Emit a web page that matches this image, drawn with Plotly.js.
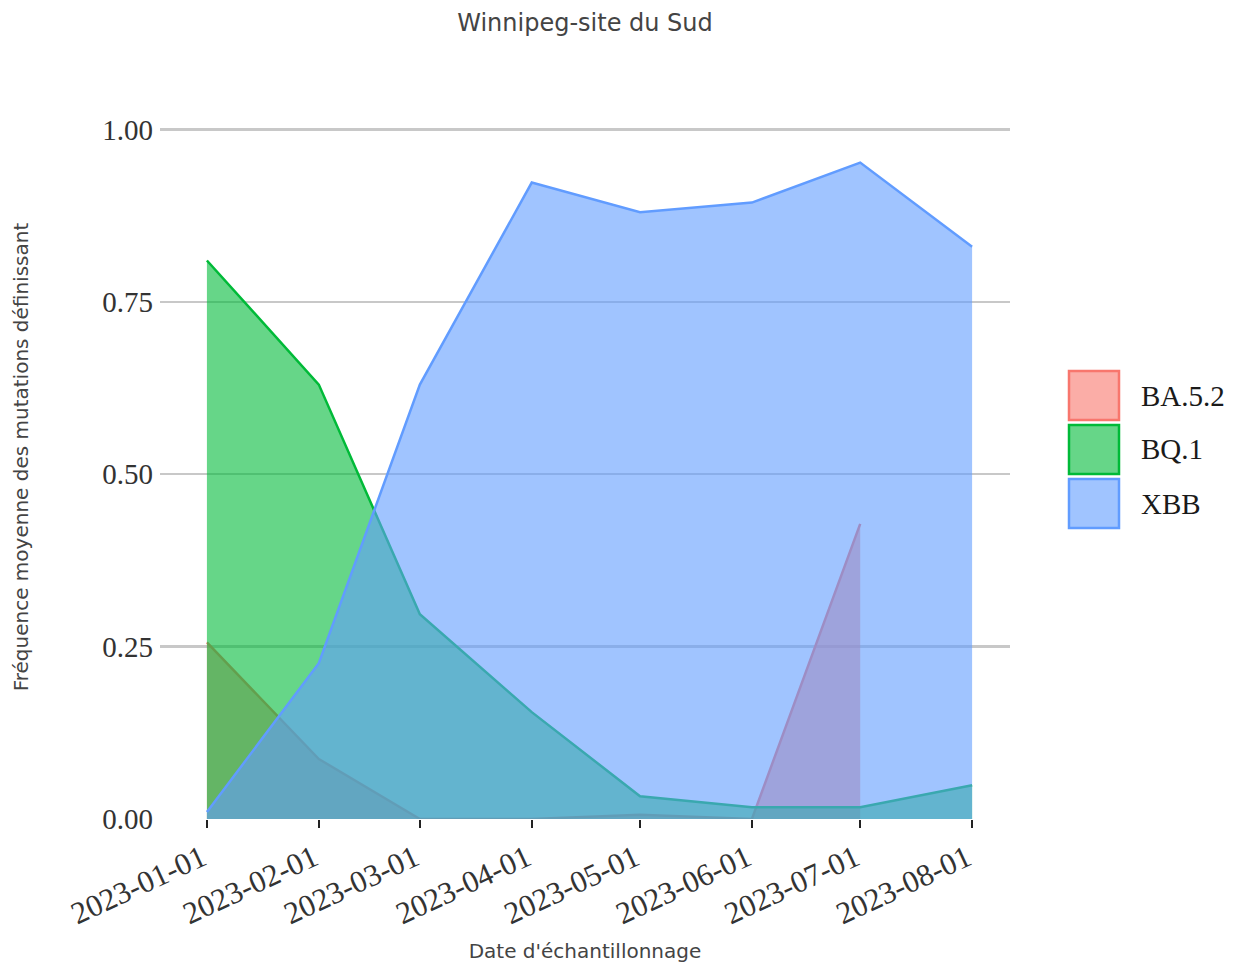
<!DOCTYPE html>
<html>
<head>
<meta charset="utf-8">
<script src="https://cdn.plot.ly/plotly-3.0.1.min.js"></script>
<style>html,body{margin:0;padding:0;background:#fff;}#chart{width:1237px;height:963px;}</style>
</head>
<body>
<div id="chart"></div>
<script>
// ---- data ----
const dates = ['2023-01-01','2023-02-01','2023-03-01','2023-04-01','2023-05-01','2023-06-01','2023-07-01','2023-08-01'];
const seriesNames = ['BA.5.2','BQ.1','XBB'];
const ba52 = [0.256, 0.087, 0.0, 0.0, 0.006, 0.0, 0.428, null];
const bq1  = [0.810, 0.630, 0.297, 0.155, 0.033, 0.017, 0.017, 0.049];
const xbb  = [0.010, 0.226, 0.630, 0.923, 0.880, 0.894, 0.952, 0.830];
const yTicks = [0, 0.25, 0.5, 0.75, 1.0];

// ---- styles ----
const lineColors = ['#F8766D','#00BA38','#619CFF'];
const fillColors = ['rgba(248,118,109,0.6)','rgba(0,186,56,0.6)','rgba(97,156,255,0.6)'];
const values = [ba52, bq1, xbb];
const serif = 'Liberation Serif, Times New Roman, serif';
const sans = 'DejaVu Sans, sans-serif';

const traces = seriesNames.map((n, i) => ({
  type: 'scatter', mode: 'lines', name: n,
  x: dates.slice(0, values[i].filter(v => v !== null).length),
  y: values[i].filter(v => v !== null),
  fill: 'tozeroy', fillcolor: fillColors[i],
  line: {color: lineColors[i], width: 2.5},
  showlegend: false, hoverinfo: 'skip'
}));

const W = 1237, H = 963;
const M = {l: 160, r: 227, t: 95, b: 144};
const pw = W - M.l - M.r, ph = H - M.t - M.b;
const px2x = p => (p - M.l) / pw;
const py2y = p => (H - M.b - p) / ph;

const shapes = [], annotations = [];
seriesNames.forEach((n, i) => {
  const top = 371 + i * 54, bot = top + 49;
  shapes.push({type: 'rect', xref: 'paper', yref: 'paper',
    x0: px2x(1069), x1: px2x(1119), y0: py2y(bot), y1: py2y(top),
    fillcolor: fillColors[i], line: {color: lineColors[i], width: 2.5}});
  annotations.push({xref: 'paper', yref: 'paper', x: px2x(1139), y: py2y((top + bot) / 2),
    xanchor: 'left', yanchor: 'middle', showarrow: false, text: n,
    font: {family: serif, size: 29, color: '#1a1a1a'}});
});

const layout = {
  width: W, height: H,
  margin: M,
  paper_bgcolor: '#fff', plot_bgcolor: '#fff',
  showlegend: false,
  hovermode: false,
  title: {text: 'Winnipeg-site du Sud', x: 0.5, xref: 'paper', y: 1 - 23 / H, yref: 'container', yanchor: 'middle',
    font: {family: sans, size: 24, color: '#444'}},
  xaxis: {
    type: 'date', range: ['2022-12-19', '2023-08-11 12:00'],
    tickvals: dates, ticktext: dates, tickangle: -25,
    ticks: 'outside', ticklen: 8, tickwidth: 2.5, tickcolor: '#222',
    ticklabelshift: -5,
    showgrid: false, zeroline: false, showline: false,
    tickfont: {family: serif, size: 31, color: '#333'},
    title: {text: "Date d'échantillonnage", standoff: 17,
      font: {family: sans, size: 20, color: '#444'}}
  },
  yaxis: {
    range: [0, 1.05], tickvals: yTicks, tickformat: '.2f',
    showgrid: true, gridcolor: '#c8c8c8', gridwidth: 2.5,
    zeroline: false, showline: false, ticks: '',
    ticklabelstandoff: 6,
    tickfont: {family: serif, size: 29, color: '#333'},
    title: {text: 'Fréquence moyenne des mutations définissant', standoff: 68,
      font: {family: sans, size: 20, color: '#444'}}
  },
  shapes: shapes,
  annotations: annotations
};

Plotly.newPlot('chart', traces, layout, {displayModeBar: false, staticPlot: true});
</script>
</body>
</html>
